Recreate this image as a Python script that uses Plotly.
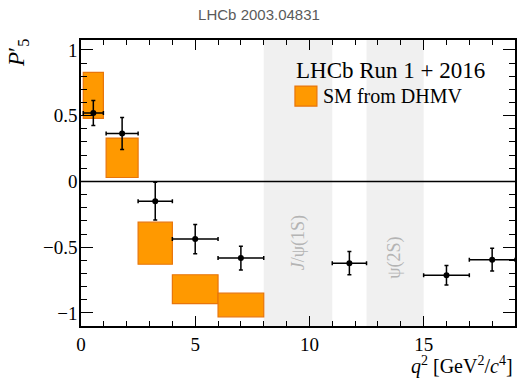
import plotly.graph_objects as go

# LHCb data
q2_lo = [0.1, 1.1, 2.5, 4.0, 6.0, 11.0, 15.0, 17.0]
q2_hi = [0.98, 2.5, 4.0, 6.0, 8.0, 12.5, 17.0, 19.0]
p5 = [0.521, 0.365, -0.150, -0.439, -0.583, -0.622, -0.714, -0.595]
p5_err = [0.095, 0.122, 0.144, 0.111, 0.090, 0.088, 0.074, 0.086]

# SM predictions (DHMV)
sm_lo_q2 = [0.1, 1.1, 2.5, 4.0, 6.0]
sm_hi_q2 = [0.98, 2.5, 4.0, 6.0, 8.0]
sm_low = [0.48, 0.03, -0.63, -0.93, -1.03]
sm_high = [0.83, 0.33, -0.31, -0.71, -0.85]

# charmonium vetoes
veto_lo = [8.0, 12.5]
veto_hi = [11.0, 15.0]
veto_labels = ["<i>J</i>/ψ(1S)", "ψ(2S)"]
veto_label_y = [-0.47, -0.58]

serif = "Liberation Serif"
orange = "#ff9900"
orange_edge = "#e8750a"

fig = go.Figure()

for lo, hi in zip(veto_lo, veto_hi):
    fig.add_shape(type="rect", xref="x", yref="paper", x0=lo, x1=hi, y0=0, y1=1,
                  fillcolor="#f0f0f0", line_width=0, layer="below")
for lo, hi, lab, ly in zip(veto_lo, veto_hi, veto_labels, veto_label_y):
    fig.add_annotation(x=(lo + hi) / 2, y=ly, xref="x", yref="y", text=lab, textangle=-90,
                       showarrow=False, font=dict(family=serif, size=18, color="#b4b4b4"))

fig.add_trace(go.Bar(
    x=[(a + b) / 2 for a, b in zip(sm_lo_q2, sm_hi_q2)],
    width=[b - a for a, b in zip(sm_lo_q2, sm_hi_q2)],
    base=sm_low,
    y=[h - l for h, l in zip(sm_high, sm_low)],
    marker=dict(color=orange, line=dict(color=orange_edge, width=1.2)),
    name="SM from DHMV", showlegend=False,
))

fig.add_hline(y=0, line=dict(color="black", width=1.5))

fig.add_trace(go.Scatter(
    x=[(a + b) / 2 for a, b in zip(q2_lo, q2_hi)],
    y=p5,
    mode="markers",
    marker=dict(color="black", size=6),
    error_x=dict(type="data", array=[(b - a) / 2 for a, b in zip(q2_lo, q2_hi)], color="black", thickness=1.5, width=2),
    error_y=dict(type="data", array=p5_err, color="black", thickness=1.5, width=2),
    showlegend=False, name="LHCb",
))

axis_common = dict(ticks="inside", mirror="ticks", showline=True, linecolor="black", linewidth=1.5,
                   tickcolor="black", showgrid=False, zeroline=False,
                   tickfont=dict(family=serif, size=19, color="black"))

fig.update_layout(
    width=518, height=379,
    margin=dict(l=81, r=1, t=40, b=53),
    plot_bgcolor="white", paper_bgcolor="white",
    title=dict(text="LHCb 2003.04831", x=0.5, xanchor="center", y=0.96, yanchor="middle",
               font=dict(family="Liberation Sans", size=15, color="#5a5a5a")),
    xaxis=dict(range=[0, 19], tickvals=[0, 5, 10, 15], ticklen=10,
               minor=dict(dtick=1, ticks="inside", ticklen=5, tickcolor="black"), **axis_common),
    yaxis=dict(range=[-1.1, 1.076], tickvals=[-1, -0.5, 0, 0.5, 1],
               ticktext=["−1", "−0.5", "0", "0.5", "1"], ticklen=12, ticklabelstandoff=-2,
               minor=dict(dtick=0.1, ticks="inside", ticklen=6, tickcolor="black"), **axis_common),
    barmode="overlay",
    showlegend=False,
)

# legend box drawn by hand
fig.add_annotation(xref="paper", yref="paper", x=0.49, y=0.895, xanchor="left", yanchor="middle",
                   text="LHCb Run 1 + 2016", showarrow=False,
                   font=dict(family=serif, size=23, color="black"))
fig.add_shape(type="rect", xref="paper", yref="paper", x0=0.493, x1=0.5436, y0=0.769, y1=0.839,
              fillcolor=orange, line=dict(color=orange_edge, width=1.2))
fig.add_annotation(xref="paper", yref="paper", x=0.553, y=0.804, xanchor="left", yanchor="middle",
                   text="SM from DHMV", showarrow=False,
                   font=dict(family=serif, size=20, color="black"))

fig.add_annotation(xref="paper", yref="paper", x=-0.145, y=0.955, text="<i>P</i>′<sub>5</sub>",
                   textangle=-90, showarrow=False, xanchor="center", yanchor="middle",
                   font=dict(family=serif, size=23, color="black"))
fig.add_annotation(xref="paper", yref="paper", x=1.0, y=-0.138, xanchor="right", yanchor="middle",
                   text="<i>q</i><sup>2</sup>&nbsp;[GeV<sup>2</sup>/<i>c</i><sup>4</sup>]", showarrow=False,
                   font=dict(family=serif, size=20, color="black"))

fig.write_html("out.html", config={"displayModeBar": False},
               post_script="document.body.style.margin='0';document.body.style.overflow='hidden';")
